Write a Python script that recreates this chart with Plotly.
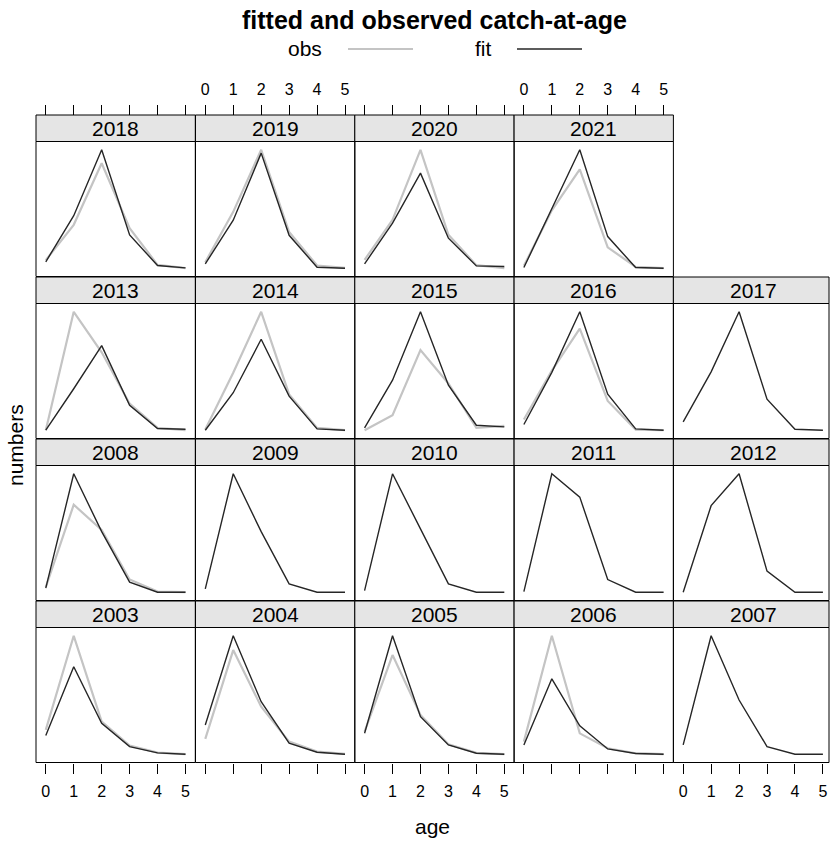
import plotly.graph_objects as go

# catch-at-age (relative units, each panel has its own y scale)
years = list(range(2003, 2022))
ages = [0, 1, 2, 3, 4, 5]

fit = {
    2003: [78, 285, 115, 45, 26, 22],
    2004: [110, 378, 180, 55, 28, 22],
    2005: [85, 378, 135, 50, 25, 22],
    2006: [50, 250, 108, 38, 24, 22],
    2007: [50, 378, 185, 45, 22, 22],
    2008: [42, 382, 210, 60, 30, 30],
    2009: [40, 382, 210, 55, 30, 30],
    2010: [35, 385, 220, 55, 30, 30],
    2011: [32, 385, 315, 68, 30, 30],
    2012: [32, 290, 385, 95, 32, 32],
    2013: [35, 160, 290, 110, 40, 38],
    2014: [38, 150, 310, 140, 42, 38],
    2015: [42, 185, 390, 170, 50, 45],
    2016: [55, 210, 390, 145, 42, 38],
    2017: [60, 210, 390, 128, 38, 35],
    2018: [45, 182, 378, 125, 34, 27],
    2019: [40, 170, 370, 125, 30, 27],
    2020: [38, 160, 310, 115, 32, 30],
    2021: [30, 205, 380, 122, 30, 28],
}

obs = {
    2003: [95, 378, 120, 48, 27, 22],
    2004: [68, 335, 165, 60, 30, 23],
    2005: [90, 320, 140, 52, 26, 22],
    2006: [60, 380, 85, 40, 25, 22],
    2008: [45, 290, 215, 68, 32, 30],
    2013: [35, 392, 270, 115, 42, 35],
    2014: [40, 210, 392, 145, 45, 38],
    2015: [35, 80, 275, 175, 42, 48],
    2016: [70, 215, 340, 125, 40, 38],
    2018: [50, 155, 338, 145, 36, 26],
    2019: [45, 195, 380, 135, 35, 28],
    2020: [50, 170, 380, 125, 34, 25],
    2021: [35, 200, 322, 90, 32, 28],
}

W, H = 830, 841
FONT = "Liberation Sans"
col_left = [36, 195.5, 354.8, 514.1, 673.4]
col_w = 159.3
pxu = col_w / 5.7          # pixels per age unit (lattice 7% padding)
row_top = [115, 277, 439, 601]   # strip tops, top row first
strip_h = 26.5
panel_bottom = 161.5

fig = go.Figure()
shapes = []
annotations = []

for i, yr in enumerate(years):
    col = i % 5
    row = 3 - i // 5
    n = i + 1
    xa = "x" if n == 1 else f"x{n}"
    ya = "y" if n == 1 else f"y{n}"

    x0 = col_left[col]
    x1 = min(x0 + col_w, 829)
    top = row_top[row]
    ptop = top + strip_h
    pbot = top + panel_bottom

    if yr in obs:
        fig.add_trace(go.Scatter(x=ages, y=obs[yr], mode="lines", xaxis=xa, yaxis=ya,
                                 line=dict(color="#c4c4c4", width=2.2), showlegend=False))
    fig.add_trace(go.Scatter(x=ages, y=fit[yr], mode="lines", xaxis=xa, yaxis=ya,
                             line=dict(color="#262626", width=1.4), showlegend=False))

    vals = fit[yr] + obs.get(yr, [])
    lo, hi = min(vals), max(vals)
    pad = 0.07 * (hi - lo)

    xkey = "xaxis" if n == 1 else f"xaxis{n}"
    ykey = "yaxis" if n == 1 else f"yaxis{n}"
    xax = dict(domain=[x0 / W, x1 / W], range=[-0.35, -0.35 + (x1 - x0) / pxu],
               anchor=ya, showgrid=False, zeroline=False, showline=False,
               tickvals=ages, ticks="", showticklabels=False,
               tickfont=dict(family=FONT, size=16, color="black"),
               ticklen=10, tickcolor="black", tickwidth=1, ticklabelstandoff=4)
    if row == 3:
        xax.update(ticks="outside", side="bottom", showticklabels=(col % 2 == 0))
    elif row == 0:
        xax.update(ticks="outside", side="top", anchor="free",
                   position=1 - top / H, showticklabels=(col % 2 == 1))
    fig.update_layout({
        xkey: xax,
        ykey: dict(domain=[1 - pbot / H, 1 - ptop / H], range=[lo - pad, hi + pad],
                   anchor=xa, showgrid=False, zeroline=False, showline=False,
                   showticklabels=False, ticks=""),
    })

    shapes.append(dict(type="rect", xref="paper", yref="paper",
                       x0=x0 / W, x1=x1 / W, y0=1 - ptop / H, y1=1 - top / H,
                       fillcolor="#e5e5e5", line=dict(color="black", width=1), layer="below"))
    shapes.append(dict(type="rect", xref="paper", yref="paper",
                       x0=x0 / W, x1=x1 / W, y0=1 - pbot / H, y1=1 - ptop / H,
                       line=dict(color="black", width=1)))
    annotations.append(dict(text=str(yr), xref="paper", yref="paper",
                            x=(x0 + x0 + col_w) / 2 / W, y=1 - (top + strip_h / 2) / H,
                            showarrow=False, xanchor="center", yanchor="middle",
                            font=dict(family=FONT, size=21, color="black")))

# title, key and axis titles
annotations += [
    dict(text="<b>fitted and observed catch-at-age</b>", xref="paper", yref="paper",
         x=434 / W, y=1 - 20 / H, showarrow=False, xanchor="center", yanchor="middle",
         font=dict(family=FONT, size=25, color="black")),
    dict(text="obs", xref="paper", yref="paper", x=305 / W, y=1 - 49 / H,
         showarrow=False, xanchor="center", yanchor="middle",
         font=dict(family=FONT, size=21, color="black")),
    dict(text="fit", xref="paper", yref="paper", x=483 / W, y=1 - 49 / H,
         showarrow=False, xanchor="center", yanchor="middle",
         font=dict(family=FONT, size=21, color="black")),
    dict(text="age", xref="paper", yref="paper", x=432 / W, y=1 - 826 / H,
         showarrow=False, xanchor="center", yanchor="middle",
         font=dict(family=FONT, size=21, color="black")),
    dict(text="numbers", xref="paper", yref="paper", x=15 / W, y=1 - 445 / H,
         showarrow=False, xanchor="center", yanchor="middle", textangle=-90,
         font=dict(family=FONT, size=21, color="black")),
]
shapes += [
    dict(type="line", xref="paper", yref="paper", x0=348 / W, x1=413 / W,
         y0=1 - 49 / H, y1=1 - 49 / H, line=dict(color="#c4c4c4", width=2.2)),
    dict(type="line", xref="paper", yref="paper", x0=517 / W, x1=582 / W,
         y0=1 - 49 / H, y1=1 - 49 / H, line=dict(color="#262626", width=1.4)),
]

fig.update_layout(width=W, height=H, margin=dict(l=0, r=0, t=0, b=0, pad=0),
                  paper_bgcolor="white", plot_bgcolor="white",
                  shapes=shapes, annotations=annotations, showlegend=False)

# drop the default page margin so the figure sits at the window's corner
fig.write_html("out.html", config={"displayModeBar": False},
               post_script="document.body.style.margin='0';")
